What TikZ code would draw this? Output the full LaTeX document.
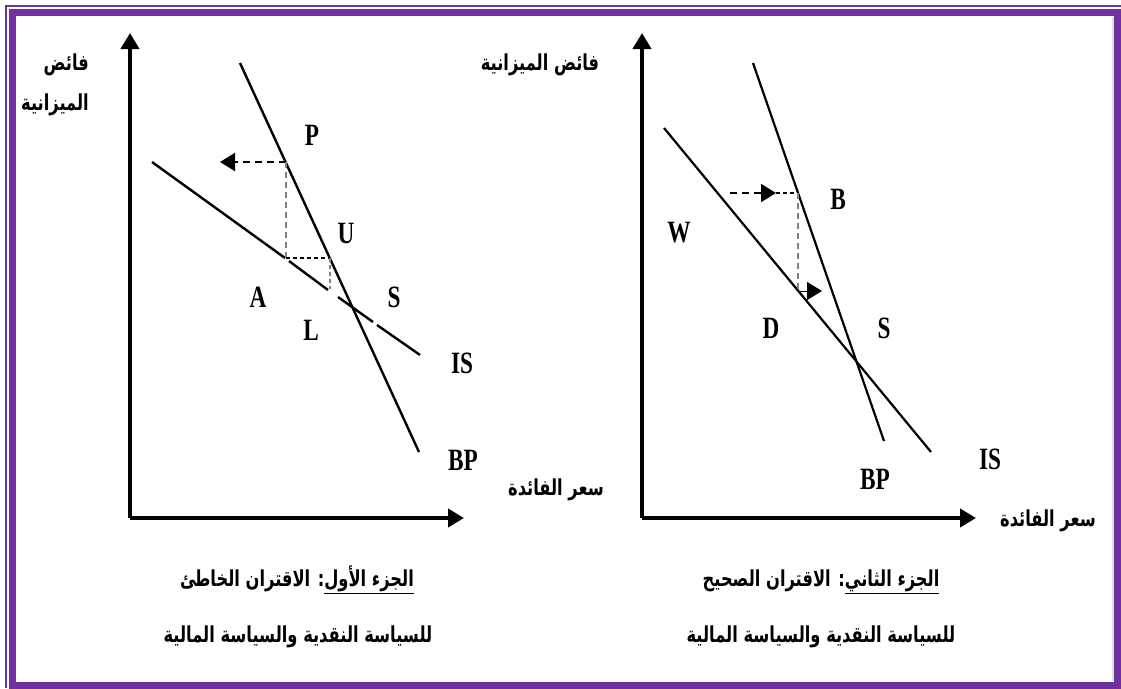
\documentclass[tikz,border=0pt]{standalone}
\usepackage{fontspec}
\usepackage{xcolor}
\setmainfont{Liberation Serif}
\newfontfamily\latinfont[FakeStretch=0.75]{Liberation Serif}
\newfontfamily\arabicfont[Script=Arabic,FakeStretch=0.74]{DejaVu Sans}
\TeXXeTstate=1
\usetikzlibrary{arrows.meta,positioning}
\definecolor{framepurple}{RGB}{112,48,160}

\tikzset{
  axisline/.style={line width=4pt,-{Triangle[length=16pt,width=18pt]}},
  curveline/.style={line width=2.4pt},
  guideline/.style={line width=2pt,dash pattern=on 7pt off 5pt},
  guidegray/.style={line width=1.8pt,gray,dash pattern=on 6pt off 4pt},
  tiphead/.style={-{Triangle[length=15pt,width=18pt]}},
  ptlabel/.style={font=\latinfont\bfseries\fontsize{31}{31}\selectfont,inner sep=0pt},
  arlabel/.style={font=\arabicfont\bfseries\fontsize{22}{40}\selectfont,inner sep=0pt}
}

\begin{document}
\begin{tikzpicture}[x=1pt,y=-1pt]
  \useasboundingbox (0,0) rectangle (1121,688);
  % frame
  \draw[framepurple,line width=2pt] (6,688) -- (6,6) -- (1121,6);
  \draw[framepurple,line width=7pt] (12.5,12.5) rectangle (1117.5,685);
  \draw[gray!25,line width=2pt] (1112.5,17) -- (1112.5,681);

  % ---- left panel ----
  \coordinate (o1) at (130,518);
  \coordinate (y1) at (130,33);
  \coordinate (x1) at (464,518);
  \draw[axisline] (o1) -- (y1);
  \draw[axisline] (o1) -- (x1);

  \coordinate (bp1a) at (240,63);
  \coordinate (bp1b) at (419,452);
  \draw[curveline] (bp1a) -- (bp1b);  % BP line

  \coordinate (is1a) at (152,162);
  \coordinate (is1c) at (285,258);
  \coordinate (is1d) at (289,261);
  \coordinate (is1e) at (328,290);
  \coordinate (is1f) at (338,297);
  \coordinate (is1g) at (373,322);
  \coordinate (is1h) at (377,325);
  \coordinate (is1b) at (420,355);
  \draw[curveline] (is1a) -- (is1c) (is1d) -- (is1e) (is1f) -- (is1g) (is1h) -- (is1b);  % IS line

  \coordinate (p1) at (286,162);
  \coordinate (t1) at (220,162);
  \coordinate (c1) at (286,258);
  \coordinate (c2) at (330,258);
  \coordinate (c3) at (330,289);
  \draw[guideline,tiphead] (p1) -- (t1);
  \draw[guidegray] (p1) -- (c1);
  \draw[guideline,dash pattern=on 4pt off 3pt] (c1) -- (c2);
  \draw[guidegray,dash pattern=on 4pt off 3pt] (c2) -- (c3);

  \node[ptlabel] (P) at (312,135) {P};
  \node[ptlabel] (U) at (346,233) {U};
  \node[ptlabel] (A) at (258,297) {A};
  \node[ptlabel] (S1) at (394,297) {S};
  \node[ptlabel] (L) at (311,330) {L};
  \node[ptlabel] (IS1) at (462,363) {IS};
  \node[ptlabel] (BP1) at (463,460) {BP};

  \node[arlabel,anchor=east,align=right] (ylab1) at (89,85) {\beginR فائض\endR\\\beginR الميزانية\endR};
  \node[arlabel] (xlab1) at (556,490) {\beginR سعر الفائدة\endR};
  \node[arlabel] (cap1a) at (297,580) {\beginR\underline{\beginR الجزء الأول\endR}: الاقتران الخاطئ\endR};
  \node[arlabel] (cap1b) at (298,637) {\beginR للسياسة النقدية والسياسة المالية\endR};

  % ---- right panel ----
  \coordinate (o2) at (642,518);
  \coordinate (y2) at (642,33);
  \coordinate (x2) at (976,518);
  \draw[axisline] (o2) -- (y2);
  \draw[axisline] (o2) -- (x2);

  \coordinate (bp2a) at (753,63);
  \coordinate (bp2b) at (884,441);
  \coordinate (is2a) at (664,128);
  \coordinate (is2b) at (931,452);
  \draw[curveline,line width=2.2pt] (bp2a) -- (bp2b);  % BP line
  \draw[curveline,line width=2.2pt] (is2a) -- (is2b);  % IS line

  \coordinate (w2) at (730,193);
  \coordinate (m2) at (776,193);
  \coordinate (b2) at (798,193);
  \coordinate (d2) at (798,291);
  \coordinate (e2) at (822,291);
  \draw[guideline,tiphead] (w2) -- (m2);
  \draw[guideline,line width=1.6pt,dash pattern=on 4pt off 3pt] (m2) -- (b2);
  \draw[guidegray] (b2) -- (d2);
  \draw[line width=1pt,tiphead] (d2) -- (e2);

  \node[ptlabel] (B) at (838,199) {B};
  \node[ptlabel] (W) at (679,233) {W};
  \node[ptlabel] (D) at (771,328) {D};
  \node[ptlabel] (S2) at (884,328) {S};
  \node[ptlabel] (BP2) at (875,479) {BP};
  \node[ptlabel] (IS2) at (990,459) {IS};

  \node[arlabel] (ylab2) at (540,65) {\beginR فائض الميزانية\endR};
  \node[arlabel] (xlab2) at (1048,521) {\beginR سعر الفائدة\endR};
  \node[arlabel] (cap2a) at (821,582) {\beginR\underline{\beginR الجزء الثاني\endR}: الاقتران الصحيح\endR};
  \node[arlabel] (cap2b) at (821,637) {\beginR للسياسة النقدية والسياسة المالية\endR};
\end{tikzpicture}
\end{document}
